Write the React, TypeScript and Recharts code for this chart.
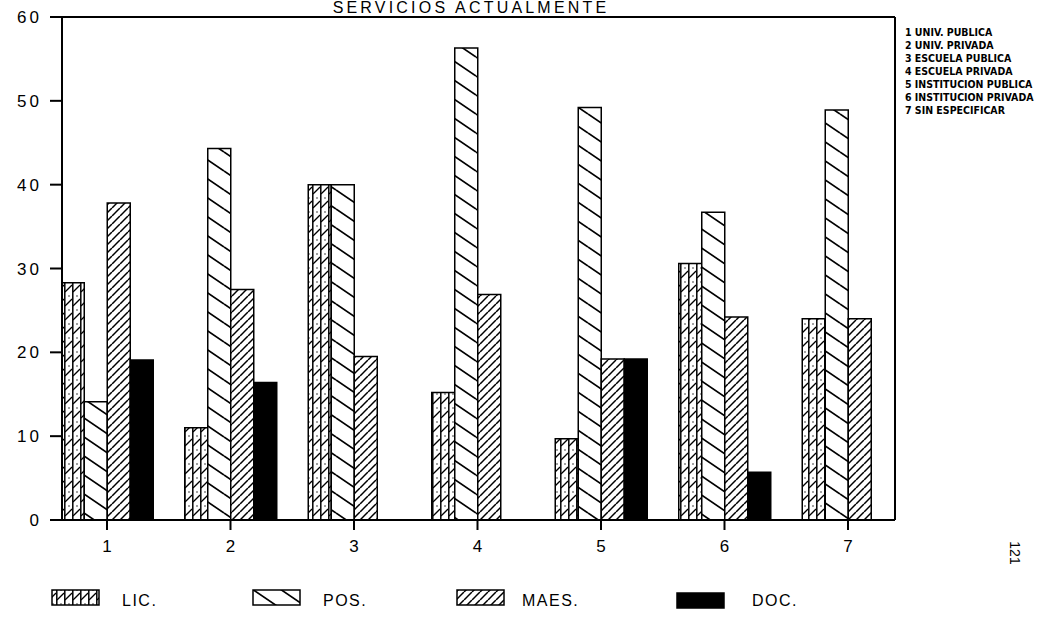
import React from 'react';
import { BarChart, Bar, XAxis, YAxis, ReferenceLine } from 'recharts';

const categories = [1, 2, 3, 4, 5, 6, 7];
const licValues = [28.3, 11.0, 40.0, 15.2, 9.7, 30.6, 24.0];
const posValues = [14.1, 44.3, 40.0, 56.3, 49.2, 36.7, 48.9];
const maesValues = [37.8, 27.5, 19.5, 26.9, 19.2, 24.2, 24.0];
const docValues = [19.1, 16.4, 0, 0, 19.2, 5.7, 0];
const yTicks = [0, 10, 20, 30, 40, 50, 60];
const seriesNames = ['LIC.', 'POS.', 'MAES.', 'DOC.'];
const categoryNames = [
  '1 UNIV. PUBLICA',
  '2 UNIV. PRIVADA',
  '3 ESCUELA PUBLICA',
  '4 ESCUELA PRIVADA',
  '5 INSTITUCION PUBLICA',
  '6 INSTITUCION PRIVADA',
  '7 SIN ESPECIFICAR',
];
const title = 'SERVICIOS ACTUALMENTE';
const pageNumber = '121';

const data = categories.map((c, i) => ({
  cat: c,
  lic: licValues[i],
  pos: posValues[i],
  maes: maesValues[i],
  doc: docValues[i],
}));

const X_MIN = 0.6356;
const X_MAX = 7.3806;

const fills = ['url(#pLic)', 'url(#pPos)', 'url(#pMaes)', '#000'];
const keys = ['lic', 'pos', 'maes', 'doc'];

const axisFont = "'Liberation Sans', Arial, sans-serif";

function Patterns() {
  return (
    <defs>
      <pattern id="pLic" patternUnits="userSpaceOnUse" width="8" height="14">
        <rect width="8" height="14" fill="#fff" />
        <line x1="0.8" y1="0" x2="0.8" y2="14" stroke="#000" strokeWidth="1.5" />
        <line x1="1" y1="12" x2="8" y2="5" stroke="#000" strokeWidth="1.3" />
        <circle cx="5" cy="2" r="0.7" fill="#000" />
      </pattern>
      <pattern id="pPos" patternUnits="userSpaceOnUse" width="28" height="19">
        <rect width="28" height="19" fill="#fff" />
        <line x1="0" y1="0" x2="28" y2="19" stroke="#000" strokeWidth="1.7" />
        <line x1="0" y1="-19" x2="28" y2="0" stroke="#000" strokeWidth="1.7" />
        <line x1="0" y1="19" x2="28" y2="38" stroke="#000" strokeWidth="1.7" />
      </pattern>
      <pattern id="pMaes" patternUnits="userSpaceOnUse" width="8" height="8">
        <rect width="8" height="8" fill="#fff" />
        <line x1="0" y1="8" x2="8" y2="0" stroke="#000" strokeWidth="1.5" />
        <line x1="-8" y1="8" x2="0" y2="0" stroke="#000" strokeWidth="1.5" />
        <line x1="8" y1="8" x2="16" y2="0" stroke="#000" strokeWidth="1.5" />
      </pattern>
    </defs>
  );
}

const legendSwatchX = [52, 253, 457, 677];
const legendTextX = [122, 323, 522, 752];

function Annotations() {
  return (
    <g>
      <text
        x={471}
        y={13}
        textAnchor="middle"
        fontFamily={axisFont}
        fontSize={16}
        letterSpacing={3.2}
        fill="#000"
      >
        {title}
      </text>
      {categoryNames.map((n, i) => (
        <text
          key={n}
          x={905}
          y={36 + i * 13}
          fontFamily="'Liberation Sans Narrow', 'DejaVu Sans Condensed', sans-serif"
          fontWeight="bold"
          fontSize={10.5}
          fill="#000"
        >
          {n}
        </text>
      ))}
      {seriesNames.map((n, i) => (
        <g key={n}>
          <rect
            x={legendSwatchX[i]}
            y={i === 3 ? 593 : 590}
            width={47}
            height={15}
            fill={fills[i]}
            stroke="#000"
            strokeWidth={1.5}
          />
          <text
            x={legendTextX[i]}
            y={606}
            fontFamily={axisFont}
            fontSize={16}
            letterSpacing={1.5}
            fill="#000"
          >
            {n}
          </text>
        </g>
      ))}
      <text
        x={1010}
        y={553}
        transform="rotate(90 1010 553)"
        textAnchor="middle"
        fontFamily={axisFont}
        fontSize={14}
        fill="#000"
      >
        {pageNumber}
      </text>
    </g>
  );
}

export default function App() {
  return (
    <div style={{ position: 'absolute', left: 0, top: 0, width: 1055, height: 618, background: '#fff' }}>
      <BarChart
        width={1055}
        height={618}
        data={data}
        margin={{ top: 17, right: 160, bottom: 58, left: 0 }}
        barGap={0}
        barSize={23}
      >
        <Patterns />
        <XAxis
          dataKey="cat"
          type="number"
          domain={[X_MIN, X_MAX]}
          allowDataOverflow
          ticks={categories}
          height={40}
          tickSize={10}
          tickMargin={10}
          axisLine={{ stroke: '#000', strokeWidth: 2 }}
          tickLine={{ stroke: '#000', strokeWidth: 2 }}
          tick={{ fill: '#000', fontSize: 17, fontFamily: axisFont }}
        />
        <YAxis
          domain={[0, 60]}
          ticks={yTicks}
          width={62}
          tickSize={12}
          tickMargin={8}
          axisLine={{ stroke: '#000', strokeWidth: 2 }}
          tickLine={{ stroke: '#000', strokeWidth: 2 }}
          tick={{ fill: '#000', fontSize: 17, fontFamily: axisFont, letterSpacing: 3 }}
        />
        <ReferenceLine y={60} stroke="#000" strokeWidth={2} ifOverflow="visible" />
        <ReferenceLine x={X_MAX} stroke="#000" strokeWidth={2} ifOverflow="visible" />
        {keys.map((k, i) => (
          <Bar
            key={k}
            dataKey={k}
            name={seriesNames[i]}
            fill={fills[i]}
            stroke="#000"
            strokeWidth={1.5}
            isAnimationActive={false}
          />
        ))}
        <Annotations />
      </BarChart>
    </div>
  );
}
